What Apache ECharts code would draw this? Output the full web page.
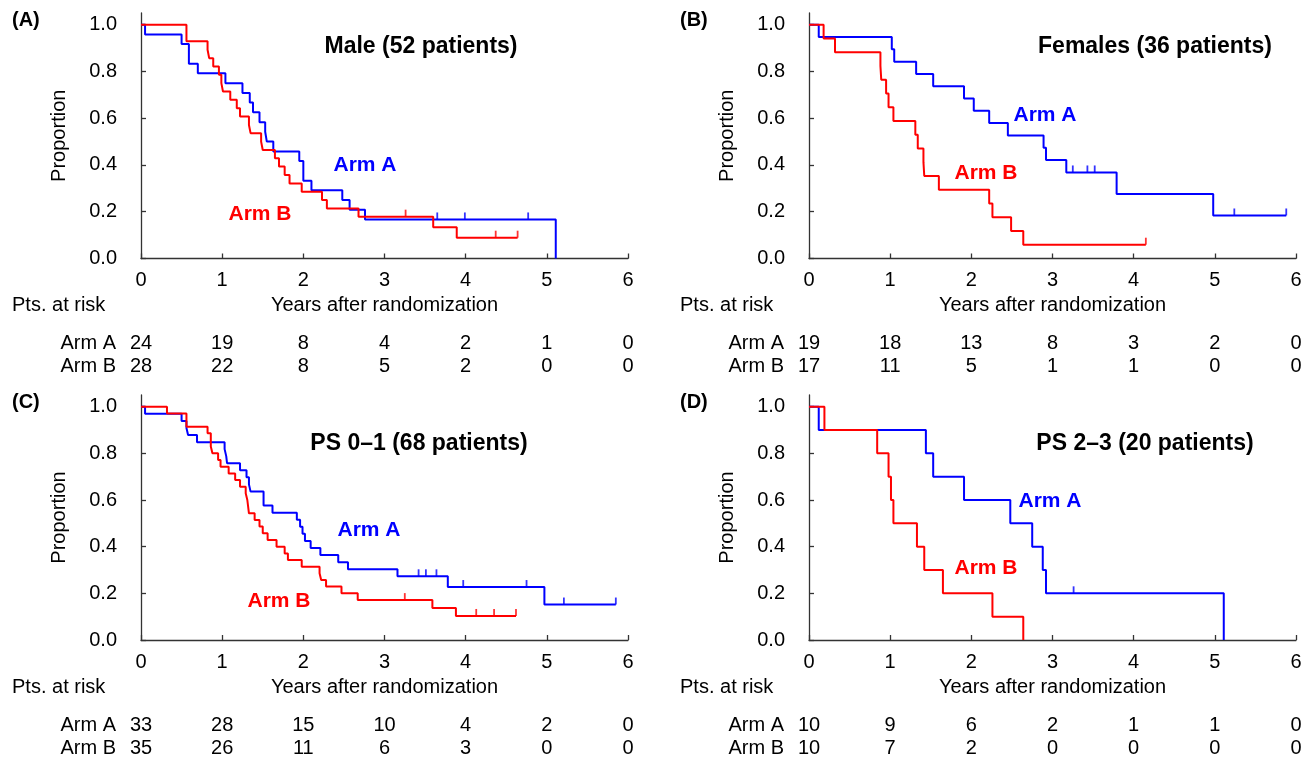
<!DOCTYPE html>
<html>
<head>
<meta charset="utf-8">
<script src="https://cdn.jsdelivr.net/npm/echarts@6/dist/echarts.min.js"></script>
<style>
  html, body { margin: 0; padding: 0; background: #fff; }
  #chart { width: 1314px; height: 758px; }
</style>
</head>
<body>
<div id="chart"></div>
<script>
  // x axis ticks (years after randomization)
  const years = [0, 1, 2, 3, 4, 5, 6];
  const propTicks = [0, 0.2, 0.4, 0.6, 0.8, 1.0];

  // (A) Male, 52 patients
  const maleA_t = [0, 0.05, 0.50, 0.59, 0.70, 1.04, 1.25, 1.34, 1.38, 1.46, 1.53, 1.55, 1.63, 1.95, 2.00, 2.10, 2.48, 2.57, 2.76, 5.11];
  const maleA_s = [1, 0.958, 0.917, 0.833, 0.792, 0.75, 0.708, 0.667, 0.625, 0.583, 0.542, 0.5, 0.458, 0.417, 0.333, 0.292, 0.25, 0.208, 0.167, 0];
  const maleA_cens = [3.65, 3.99, 4.77];
  const maleB_t = [0, 0.56, 0.82, 0.84, 0.89, 0.96, 0.99, 1.01, 1.10, 1.18, 1.22, 1.33, 1.35, 1.48, 1.50, 1.65, 1.70, 1.77, 1.83, 1.98, 2.23, 2.29, 2.68, 3.60, 3.89, 4.64];
  const maleB_s = [1, 0.929, 0.893, 0.857, 0.821, 0.786, 0.75, 0.714, 0.679, 0.643, 0.607, 0.571, 0.536, 0.5, 0.464, 0.429, 0.393, 0.357, 0.321, 0.286, 0.25, 0.214, 0.179, 0.134, 0.089, 0.089];
  const maleB_cens = [3.26, 4.37, 4.64];
  const riskMaleA = [24, 19, 8, 4, 2, 1, 0];
  const riskMaleB = [28, 22, 8, 5, 2, 0, 0];

  // (B) Females, 36 patients
  const femA_t = [0, 0.12, 1.02, 1.05, 1.32, 1.53, 1.91, 2.03, 2.22, 2.45, 2.89, 2.92, 3.17, 3.79, 4.98, 5.88];
  const femA_s = [1, 0.947, 0.895, 0.842, 0.789, 0.737, 0.684, 0.632, 0.579, 0.526, 0.474, 0.421, 0.368, 0.276, 0.184, 0.184];
  const femA_cens = [3.25, 3.43, 3.52, 5.24, 5.88];
  const femB_t = [0, 0.18, 0.32, 0.88, 0.89, 0.95, 0.98, 1.04, 1.31, 1.34, 1.41, 1.42, 1.60, 2.22, 2.26, 2.49, 2.64, 4.15];
  const femB_s = [1, 0.941, 0.882, 0.824, 0.765, 0.706, 0.647, 0.588, 0.529, 0.471, 0.412, 0.353, 0.294, 0.235, 0.176, 0.118, 0.059, 0.059];
  const femB_cens = [4.15];
  const riskFemA = [19, 18, 13, 8, 3, 2, 0];
  const riskFemB = [17, 11, 5, 1, 1, 0, 0];

  // (C) PS 0-1, 68 patients
  const ps01A_t = [0, 0.05, 0.50, 0.56, 0.58, 0.69, 1.03, 1.05, 1.06, 1.22, 1.30, 1.33, 1.35, 1.51, 1.62, 1.92, 1.96, 1.99, 2.02, 2.09, 2.21, 2.43, 2.55, 3.16, 3.78, 4.97, 5.85];
  const ps01A_s = [1, 0.970, 0.939, 0.909, 0.879, 0.848, 0.818, 0.788, 0.758, 0.727, 0.697, 0.667, 0.636, 0.576, 0.545, 0.515, 0.485, 0.455, 0.424, 0.394, 0.364, 0.333, 0.303, 0.273, 0.227, 0.152, 0.152];
  const ps01A_cens = [3.42, 3.51, 3.64, 3.97, 4.75, 5.21, 5.85];
  const ps01B_t = [0, 0.32, 0.56, 0.82, 0.86, 0.88, 0.95, 0.98, 1.08, 1.16, 1.22, 1.29, 1.31, 1.33, 1.40, 1.46, 1.50, 1.56, 1.67, 1.77, 1.81, 1.98, 2.20, 2.22, 2.28, 2.47, 2.67, 3.59, 3.88, 4.62];
  const ps01B_s = [1, 0.971, 0.914, 0.886, 0.829, 0.8, 0.771, 0.743, 0.714, 0.686, 0.657, 0.629, 0.6, 0.543, 0.514, 0.486, 0.457, 0.429, 0.4, 0.371, 0.343, 0.314, 0.286, 0.257, 0.229, 0.2, 0.171, 0.137, 0.103, 0.103];
  const ps01B_cens = [3.25, 4.13, 4.35, 4.62];
  const riskPs01A = [33, 28, 15, 10, 4, 2, 0];
  const riskPs01B = [35, 26, 11, 6, 3, 0, 0];

  // (D) PS 2-3, 20 patients
  const ps23A_t = [0, 0.12, 1.44, 1.53, 1.91, 2.48, 2.75, 2.88, 2.92, 5.11];
  const ps23A_s = [1, 0.9, 0.8, 0.7, 0.6, 0.5, 0.4, 0.3, 0.2, 0];
  const ps23A_cens = [3.26];
  const ps23B_t = [0, 0.19, 0.84, 0.98, 1.01, 1.04, 1.33, 1.42, 1.65, 2.26, 2.64];
  const ps23B_s = [1, 0.9, 0.8, 0.7, 0.6, 0.5, 0.4, 0.3, 0.2, 0.1, 0];
  const ps23B_cens = [];
  const riskPs23A = [10, 9, 6, 2, 1, 1, 0];
  const riskPs23B = [10, 7, 2, 0, 0, 0, 0];

  const FONT = '"Liberation Sans", Arial, sans-serif';
  const BLUE = '#0000ff';
  const RED = '#ff0000';

  const panels = [
    {tag: '(A)', title: 'Male (52 patients)', left: 141, top: 13, titleXY: [421, 47], armA: [365, 165], armB: [260, 214],
      a: [maleA_t, maleA_s, maleA_cens], b: [maleB_t, maleB_s, maleB_cens], riskA: riskMaleA, riskB: riskMaleB},
    {tag: '(B)', title: 'Females (36 patients)', left: 809, top: 13, titleXY: [1155, 47], armA: [1045, 115], armB: [986, 173],
      a: [femA_t, femA_s, femA_cens], b: [femB_t, femB_s, femB_cens], riskA: riskFemA, riskB: riskFemB},
    {tag: '(C)', title: 'PS 0\u20131 (68 patients)', left: 141, top: 395, titleXY: [419, 444], armA: [369, 530], armB: [279, 601],
      a: [ps01A_t, ps01A_s, ps01A_cens], b: [ps01B_t, ps01B_s, ps01B_cens], riskA: riskPs01A, riskB: riskPs01B},
    {tag: '(D)', title: 'PS 2\u20133 (20 patients)', left: 809, top: 395, titleXY: [1145, 444], armA: [1050, 501], armB: [986, 568],
      a: [ps23A_t, ps23A_s, ps23A_cens], b: [ps23B_t, ps23B_s, ps23B_cens], riskA: riskPs23A, riskB: riskPs23B}
  ];

  function pairs (t, s) {
    return t.map(function (x, i) { return [x, s[i]]; });
  }
  // survival value of a step curve at time x
  function survAt (t, s, x) {
    let v = s[0];
    for (let i = 0; i < t.length; i++) {
      if (t[i] <= x + 1e-9) v = s[i];
    }
    return v;
  }

  const chart = echarts.init(document.getElementById('chart'), null, {renderer: 'canvas'});

  const grid = [];
  const xAxis = [];
  const yAxis = [];
  const series = [];
  const graphic = [];
  const textStyle = {fontFamily: FONT, fontSize: 20, color: '#000'};

  panels.forEach(function (p, i) {
    grid.push({left: p.left, top: p.top, width: 487, height: 245.5});
    const axisLine = {show: true, onZero: false, lineStyle: {color: '#333', width: 1.3}};
    xAxis.push({
      gridIndex: i, type: 'value', min: 0, max: 6, interval: 1,
      axisLine: axisLine,
      axisTick: {show: true, inside: true, length: 5, lineStyle: {color: '#333', width: 1.3}},
      axisLabel: {margin: 12, fontFamily: FONT, fontSize: 20, color: '#000'},
      splitLine: {show: false},
      name: 'Years after randomization', nameLocation: 'middle', nameGap: 37,
      nameTextStyle: {fontFamily: FONT, fontSize: 20, color: '#000'}
    });
    // at-risk rows, one hidden axis each
    [[p.riskA, 'Arm A', 85], [p.riskB, 'Arm B', 108]].forEach(function (r) {
      xAxis.push({
        gridIndex: i, type: 'value', min: 0, max: 6, interval: 1, position: 'bottom', offset: r[2],
        axisLine: {show: false, onZero: false}, axisTick: {show: false}, splitLine: {show: false},
        axisLabel: {margin: 0, verticalAlign: 'middle', fontFamily: FONT, fontSize: 20, color: '#000',
          formatter: function (v) { return String(r[0][Math.round(v)]); }},
        name: r[1], nameLocation: 'start', nameGap: 25,
        nameTextStyle: {fontFamily: FONT, fontSize: 20, color: '#000', verticalAlign: 'middle'}
      });
    });
    yAxis.push({
      gridIndex: i, type: 'value', min: 0, max: 1.05,
      axisLine: axisLine,
      axisTick: {show: true, inside: true, length: 5, customValues: propTicks, lineStyle: {color: '#333', width: 1.3}},
      axisLabel: {margin: 24, customValues: propTicks, fontFamily: FONT, fontSize: 20, color: '#000',
        formatter: function (v) { return v.toFixed(1); }},
      splitLine: {show: false},
      name: 'Proportion', nameLocation: 'middle', nameGap: 72, nameRotate: 90,
      nameTextStyle: {fontFamily: FONT, fontSize: 20, color: '#000'}
    });

    [[p.a, BLUE], [p.b, RED]].forEach(function (arm) {
      const t = arm[0][0], s = arm[0][1], cens = arm[0][2];
      series.push({
        type: 'line', xAxisIndex: i * 3, yAxisIndex: i, step: 'end',
        showSymbol: false, symbol: 'none', silent: true,
        lineStyle: {color: arm[1], width: 2}, data: pairs(t, s)
      });
      series.push({
        type: 'scatter', xAxisIndex: i * 3, yAxisIndex: i, silent: true,
        symbol: 'rect', symbolSize: [1.8, 7], symbolOffset: [0, -3.5],
        itemStyle: {color: arm[1]},
        data: cens.map(function (c) { return [c, survAt(t, s, c)]; })
      });
    });

    const baseX = p.left < 400 ? 12 : 680;
    graphic.push({type: 'text', left: baseX, top: p.top - 3, style: {text: p.tag, font: 'bold 20px ' + FONT, fill: '#000'}});
    graphic.push({type: 'text', x: baseX, y: p.top + 292, style: {text: 'Pts. at risk', font: '20px ' + FONT, fill: '#000', verticalAlign: 'middle'}});
    graphic.push({type: 'text', x: p.titleXY[0], y: p.titleXY[1], style: {text: p.title, font: 'bold 23px ' + FONT, fill: '#000', align: 'center', verticalAlign: 'middle'}});
    graphic.push({type: 'text', x: p.armA[0], y: p.armA[1], style: {text: 'Arm A', font: 'bold 21px ' + FONT, fill: BLUE, align: 'center', verticalAlign: 'middle'}});
    graphic.push({type: 'text', x: p.armB[0], y: p.armB[1], style: {text: 'Arm B', font: 'bold 21px ' + FONT, fill: RED, align: 'center', verticalAlign: 'middle'}});
  });

  chart.setOption({
    animation: false,
    textStyle: textStyle,
    grid: grid,
    xAxis: xAxis,
    yAxis: yAxis,
    series: series,
    graphic: graphic
  });
</script>
</body>
</html>
